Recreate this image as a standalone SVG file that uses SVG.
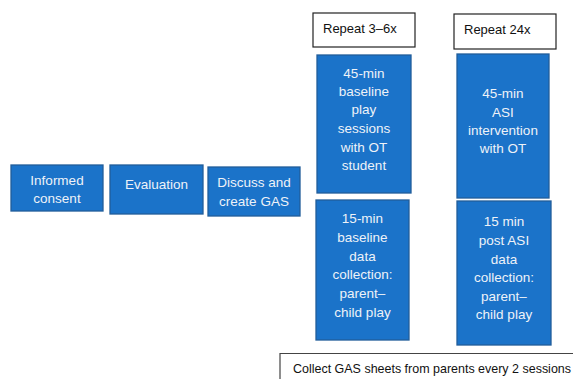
<svg xmlns="http://www.w3.org/2000/svg" width="573" height="379" viewBox="0 0 573 379">
<style>
.b{fill:#1b73c9;stroke:#215d9a;stroke-width:1.3}
.w{fill:#fff;stroke:#222;stroke-width:1.2}
.t{font-family:"Liberation Sans",Arial,sans-serif;font-size:13.5px;fill:#eef2f8;text-anchor:middle}
.k{font-family:"Liberation Sans",Arial,sans-serif;font-size:13px;fill:#111}
</style>
<rect width="573" height="379" fill="#fff"/>
<g id="informed-consent"><rect class="b" x="11" y="165" width="92" height="46"/>
<text class="t" x="57" y="185">Informed</text><text class="t" x="57" y="203">consent</text></g>
<g id="evaluation"><rect class="b" x="110" y="165" width="93" height="49"/>
<text class="t" x="156.5" y="189">Evaluation</text></g>
<g id="discuss"><rect class="b" x="208" y="167" width="92" height="49"/>
<text class="t" x="254" y="186.5">Discuss and</text><text class="t" x="254" y="205.5">create GAS</text></g>
<g id="repeat-3-6"><rect class="w" x="313" y="13" width="102" height="34"/>
<text class="k" x="323" y="33">Repeat 3–6x</text></g>
<g id="repeat-24"><rect class="w" x="454" y="14" width="102" height="35"/>
<text class="k" x="464" y="34">Repeat 24x</text></g>
<g id="baseline-play"><rect class="b" x="317" y="55" width="94" height="138"/>
<text class="t" x="364" y="77.5">45-min</text><text class="t" x="364" y="95.5">baseline</text><text class="t" x="364" y="114">play</text><text class="t" x="364" y="133">sessions</text><text class="t" x="364" y="151.5">with OT</text><text class="t" x="364" y="170">student</text></g>
<g id="asi-intervention"><rect class="b" x="457" y="54" width="92" height="144"/>
<text class="t" x="503" y="98">45-min</text><text class="t" x="503" y="117">ASI</text><text class="t" x="503" y="135">intervention</text><text class="t" x="503" y="153">with OT</text></g>
<g id="baseline-data"><rect class="b" x="316" y="200" width="93" height="140"/>
<text class="t" x="362.5" y="223">15-min</text><text class="t" x="362.5" y="241.5">baseline</text><text class="t" x="362.5" y="260.5">data</text><text class="t" x="362.5" y="279">collection:</text><text class="t" x="362.5" y="298">parent–</text><text class="t" x="362.5" y="316.5">child play</text></g>
<g id="post-asi-data"><rect class="b" x="457" y="201" width="94" height="144"/>
<text class="t" x="504" y="226">15 min</text><text class="t" x="504" y="245">post ASI</text><text class="t" x="504" y="263.5">data</text><text class="t" x="504" y="282">collection:</text><text class="t" x="504" y="301">parent–</text><text class="t" x="504" y="319">child play</text></g>
<g id="collect-gas"><path d="M280 385V353.5H580" fill="none" stroke="#444" stroke-width="1.2"/>
<text class="k" x="293" y="373" font-size="13.5" textLength="278" lengthAdjust="spacingAndGlyphs">Collect GAS sheets from parents every 2 sessions</text></g>
<g id="connectors"></g>
</svg>
